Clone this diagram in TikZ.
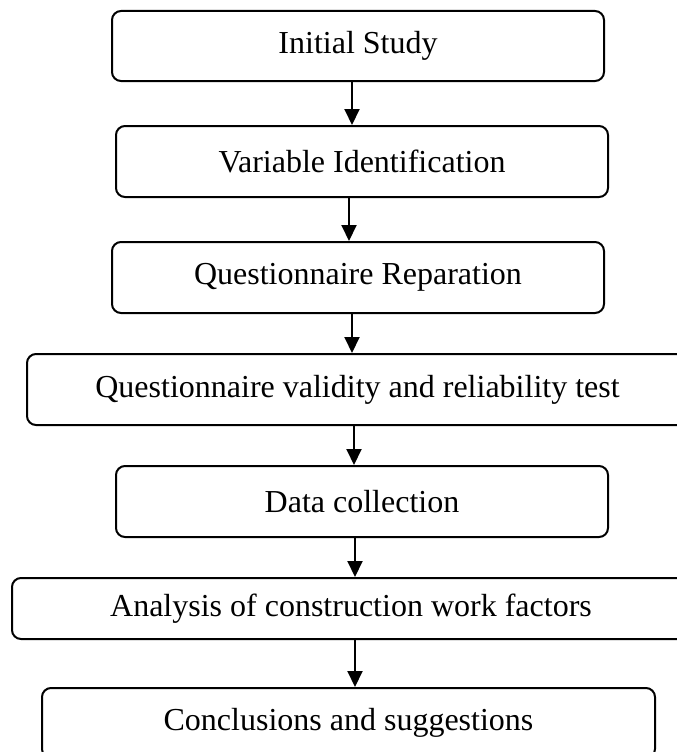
\documentclass[tikz,border=0pt]{standalone}
\usepackage{fontspec}
\setmainfont{Liberation Serif}
\usetikzlibrary{arrows.meta}
\begin{document}
\begin{tikzpicture}[x=1pt,y=-1pt,
  stepbox/.style={draw=black,line width=2pt,rounded corners=9pt,fill=white,inner sep=0pt,
    font=\fontsize{32}{38}\selectfont,anchor=center},
  arr/.style={line width=2pt,-{Triangle[length=16pt,width=15pt]}}]
\useasboundingbox (0,0) rectangle (677,752);
\clip (0,0) rectangle (677,752);
\node[stepbox,minimum width=492pt,minimum height=70pt] (b1) at (358,46) {Initial Study};
\node[stepbox,minimum width=492pt,minimum height=71pt] (b2) at (362,161.5) {Variable Identification};
\node[stepbox,minimum width=492pt,minimum height=71pt] (b3) at (358,277.5) {Questionnaire Reparation};
\node[stepbox,minimum width=661pt,minimum height=71pt] (b4) at (357.5,389.5) {Questionnaire validity and reliability test};
\node[stepbox,minimum width=492pt,minimum height=71pt] (b5) at (362,501.5) {Data collection};
\node[stepbox,minimum width=678pt,minimum height=61pt] (b6) at (351,608.5) {Analysis of construction work factors};
\node[stepbox,minimum width=613pt,minimum height=70pt] (b7) at (348.5,723) {Conclusions and suggestions};
\draw[arr] ([xshift=-6pt]b1.south) -- ([xshift=-6pt]b1.south |- b2.north);
\draw[arr] ([xshift=-13pt]b2.south) -- ([xshift=-13pt]b2.south |- b3.north);
\draw[arr] ([xshift=-6pt]b3.south) -- ([xshift=-6pt]b3.south |- b4.north);
\draw[arr] ([xshift=-3.5pt]b4.south) -- ([xshift=-3.5pt]b4.south |- b5.north);
\draw[arr] ([xshift=-7pt]b5.south) -- ([xshift=-7pt]b5.south |- b6.north);
\draw[arr] ([xshift=4pt]b6.south) -- ([xshift=4pt]b6.south |- b7.north);
\end{tikzpicture}
\end{document}
